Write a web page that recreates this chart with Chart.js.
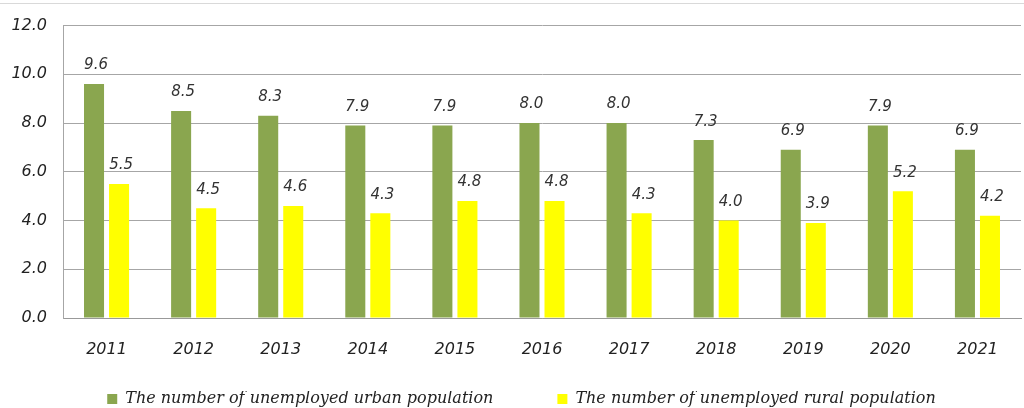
<!DOCTYPE html>
<html>
<head>
<meta charset="utf-8">
<script src="https://cdn.jsdelivr.net/npm/chart.js@4/dist/chart.umd.min.js"></script>
<style>
  html, body { margin: 0; padding: 0; background: #fff; overflow: hidden; }
</style>
</head>
<body>
<canvas id="bar-chart" width="1024" height="408"></canvas>
<script>
// DATI ----------------------------------------
var anni = ['2011', '2012', '2013', '2014', '2015', '2016', '2017', '2018', '2019', '2020', '2021'];
var urbani = [9.6, 8.5, 8.3, 7.9, 7.9, 8.0, 8.0, 7.3, 6.9, 7.9, 6.9];
var rurali = [5.5, 4.5, 4.6, 4.3, 4.8, 4.8, 4.3, 4.0, 3.9, 5.2, 4.2];
var labelUrbani = 'The number of unemployed urban population';
var labelRurali = 'The number of unemployed rural population';

// etichette sopra le barre
var etichette = {
  id: 'etichette',
  afterLayout: function(chart){
    // legenda un po' spostata a destra
    chart.legend.left += 11;
    chart.legend.right += 11;
  },
  afterDatasetsDraw: function(chart){
    var ctx = chart.ctx;
    ctx.save();
    ctx.font = 'italic 15px "DejaVu Sans"';
    ctx.fillStyle = '#333';
    ctx.textAlign = 'center';
    ctx.textBaseline = 'bottom';
    chart.data.datasets.forEach(function(ds, i){
      chart.getDatasetMeta(i).data.forEach(function(bar, j){
        ctx.fillText(ds.data[j].toFixed(1), bar.x + 2, bar.y - 11);
      });
    });
    // linea sottile in alto
    ctx.strokeStyle = '#d9d9d9';
    ctx.lineWidth = 1;
    ctx.beginPath();
    ctx.moveTo(0, 3.5);
    ctx.lineTo(1024, 3.5);
    ctx.stroke();
    ctx.restore();
  }
};

var ctx = document.getElementById('bar-chart');
var chart = new Chart(ctx, {
  type: 'bar',
  data: {
    labels: anni,
    datasets: [{
      label: labelUrbani,
      backgroundColor: '#8AA64F',
      data: urbani
    }, {
      label: labelRurali,
      backgroundColor: '#FFFF00',
      data: rurali
    }]
  },
  options: {
    responsive: false,
    animation: false,
    devicePixelRatio: 1,
    layout: { padding: { top: 24, right: 3, left: 0, bottom: -9 } },
    datasets: {
      bar: { categoryPercentage: 0.575, barPercentage: 0.8 }
    },
    plugins: {
      legend: {
        position: 'bottom',
        labels: {
          boxWidth: 10,
          boxHeight: 10,
          padding: 0,
          color: '#222',
          font: { family: '"DejaVu Serif"', style: 'italic', size: 16 },
          generateLabels: function(chart){
            var items = Chart.defaults.plugins.legend.labels.generateLabels(chart);
            items[0].text = items[0].text + '\u2003\u2003\u2003\u2003';
            return items;
          }
        }
      },
      tooltip: { enabled: false }
    },
    scales: {
      x: {
        grid: { display: false, drawTicks: false },
        border: { color: '#999' },
        ticks: {
          color: '#222',
          padding: 22,
          maxRotation: 0,
          autoSkip: false,
          font: { family: '"DejaVu Sans"', style: 'italic', size: 16 }
        },
        afterFit: function(s){ s.height = 73; }
      },
      y: {
        min: 0,
        max: 12,
        ticks: {
          stepSize: 2,
          color: '#222',
          padding: 16,
          callback: function(v){ return v.toFixed(1); },
          font: { family: '"DejaVu Sans"', style: 'italic', size: 16 }
        },
        grid: { color: '#a6a6a6', drawTicks: false },
        border: { color: '#a6a6a6' },
        afterFit: function(s){ s.width = 63; }
      }
    }
  },
  plugins: [etichette]
});
</script>
</body>
</html>
